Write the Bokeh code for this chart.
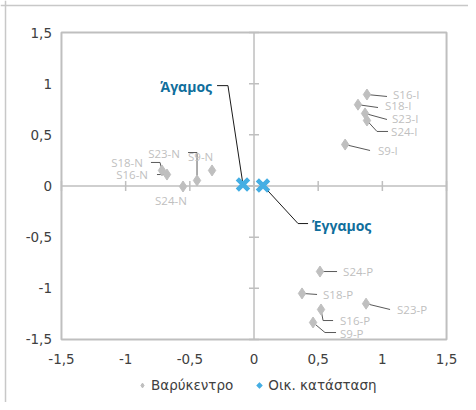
import math
from bokeh.plotting import figure
from bokeh.models import (ColumnDataSource, Range1d, Legend, LegendItem, Span)
from bokeh.embed import file_html
from bokeh.resources import INLINE
from bokeh.core.properties import value

# ---- data ----
point_names = ["S16-I", "S18-I", "S23-I", "S24-I", "S9-I",
               "S24-P", "S18-P", "S23-P", "S16-P", "S9-P",
               "S18-N", "S16-N", "S23-N", "S9-N", "S24-N"]
point_x = [0.88, 0.81, 0.865, 0.88, 0.71,
           0.514, 0.374, 0.873, 0.522, 0.46,
           -0.717, -0.678, -0.444, -0.327, -0.553]
point_y = [0.894, 0.795, 0.709, 0.64, 0.405,
           -0.836, -1.05, -1.15, -1.207, -1.334,
           0.152, 0.112, 0.054, 0.152, -0.005]

status_names = ["Άγαμος", "Έγγαμος"]
status_x = [-0.086, 0.07]
status_y = [0.015, 0.005]

tick_values = [-1.5, -1, -0.5, 0, 0.5, 1, 1.5]
tick_labels = ["-1,5", "-1", "-0,5", "0", "0,5", "1", "1,5"]

legend_labels = ["Βαρύκεντρο", "Οικ. κατάσταση"]

# ---- label layout (annotation placement, data units) ----
label_pos = {
    "S16-I": (1.083, 0.894, "left"), "S18-I": (1.021, 0.787, "left"),
    "S23-I": (1.075, 0.66, "left"), "S24-I": (1.068, 0.533, "left"),
    "S9-I": (0.966, 0.347, "left"),
    "S24-P": (0.694, -0.836, "left"), "S18-P": (0.538, -1.06, "left"),
    "S23-P": (1.114, -1.207, "left"), "S16-P": (0.67, -1.315, "left"),
    "S9-P": (0.67, -1.442, "left"),
    "S18-N": (-0.865, 0.23, "right"), "S16-N": (-0.826, 0.112, "right"),
    "S23-N": (-0.577, 0.318, "right"), "S9-N": (-0.514, 0.288, "left"),
    "S24-N": (-0.771, -0.142, "left"),
}
leader_path = {
    "S16-I": [(1.036, 0.875)], "S18-I": [(0.966, 0.767)],
    "S23-I": [(1.036, 0.65)], "S24-I": [(1.044, 0.533), (0.958, 0.533)],
    "S9-I": [(0.904, 0.347)],
    "S24-P": [(0.647, -0.836)], "S18-P": [(0.491, -1.06)],
    "S23-P": [(1.06, -1.207)], "S16-P": [(0.616, -1.315), (0.538, -1.315)],
    "S9-P": [(0.639, -1.432), (0.553, -1.432)],
    "S18-N": [(-0.803, 0.23), (-0.732, 0.23)], "S16-N": [(-0.756, 0.112)],
    "S23-N": [(-0.514, 0.327), (-0.444, 0.327)],
}
status_label_pos = {"Άγαμος": (-0.327, 0.973, "right"),
                    "Έγγαμος": (0.452, -0.386, "left")}
status_leader = {"Άγαμος": [(-0.288, 0.981), (-0.203, 0.981)],
                 "Έγγαμος": [(0.421, -0.367), (0.343, -0.367)]}

GRAY = "#BFBFBF"
BLUE = "#45AEE3"
DARKBLUE = "#0F6E9C"
AXIS = "#BFBFBF"
TXT = "#404040"

# whole figure is the drawing area; plot box is drawn at [-1.5, 1.5]
X0, X1 = -1.975, 1.671
Y0, Y1 = -2.116, 1.813
p = figure(width=468, height=402,
           x_range=Range1d(X0, X1), y_range=Range1d(Y0, Y1),
           x_axis_location=None, y_axis_location=None,
           output_backend="svg", toolbar_location=None,
           min_border=0)
p.grid.visible = False
p.outline_line_color = None
p.background_fill_color = "white"
p.border_fill_color = "white"

# chart border (left / top)
p.add_layout(Span(location=-1.936, dimension="height", line_color="#C8C8C8", line_width=1.5))
p.add_layout(Span(location=1.764, dimension="width", line_color="#C8C8C8", line_width=1.5))

lo, hi = tick_values[0], tick_values[-1]
# plot-area box
p.quad(left=[lo], right=[hi], bottom=[lo], top=[hi], fill_color=None,
       line_color=AXIS, line_width=2)
# crossing axes through the origin
p.segment(x0=[lo, 0], y0=[0, lo], x1=[hi, 0], y1=[0, hi],
          line_color=AXIS, line_width=1.5)
p.scatter(x=tick_values, y=[0] * len(tick_values), marker="dash", size=10,
          angle=math.pi / 2, line_color=AXIS, line_width=1.5)
p.scatter(x=[0] * len(tick_values), y=tick_values, marker="dash", size=10,
          line_color=AXIS, line_width=1.5)

# tick labels
p.text(x=tick_values, y=[-1.69] * len(tick_values), text=tick_labels,
       text_align="center", text_baseline="middle",
       text_font=value("DejaVu Sans"), text_font_size="13.5px", text_color=TXT)
p.text(x=[-1.574] * len(tick_values), y=tick_values, text=tick_labels,
       text_align="right", text_baseline="middle",
       text_font=value("DejaVu Sans"), text_font_size="13.5px", text_color=TXT)

# leader lines
lx, ly = [], []
for n, x, y in zip(point_names, point_x, point_y):
    if n in leader_path:
        pts = leader_path[n] + [(x, y)]
        lx.append([q[0] for q in pts])
        ly.append([q[1] for q in pts])
p.multi_line(lx, ly, line_color="#595959", line_width=1)

slx, sly = [], []
for n, x, y in zip(status_names, status_x, status_y):
    pts = status_leader[n] + [(x, y)]
    slx.append([q[0] for q in pts])
    sly.append([q[1] for q in pts])
p.multi_line(slx, sly, line_color="#1A1A1A", line_width=1)

# points
src = ColumnDataSource(dict(x=point_x, y=point_y, name=point_names))
r1 = p.scatter("x", "y", source=src, marker="diamond", size=11,
               fill_color=GRAY, line_color=GRAY)
ssrc = ColumnDataSource(dict(x=status_x, y=status_y, name=status_names))
r2 = p.scatter("x", "y", source=ssrc, marker="x", size=16,
               line_color=BLUE, line_width=4.5)

# point labels
lsrc = ColumnDataSource(dict(
    x=[label_pos[n][0] for n in point_names],
    y=[label_pos[n][1] for n in point_names],
    align=[label_pos[n][2] for n in point_names],
    text=point_names))
p.text("x", "y", text="text", source=lsrc, text_align="align",
       text_baseline="middle", text_font=value("Open Sans"),
       text_font_size="11.5px", text_color=GRAY)

stsrc = ColumnDataSource(dict(
    x=[status_label_pos[n][0] for n in status_names],
    y=[status_label_pos[n][1] for n in status_names],
    align=[status_label_pos[n][2] for n in status_names],
    text=status_names))
p.text("x", "y", text="text", source=stsrc, text_align="align",
       text_baseline="middle", text_font=value("Open Sans"),
       text_font_size="14px", text_font_style="bold", text_color=DARKBLUE)

legend = Legend(items=[LegendItem(label=legend_labels[0], renderers=[r1]),
                       LegendItem(label=legend_labels[1], renderers=[r2])],
                orientation="horizontal", location=(136, 9),
                label_text_font="DejaVu Sans", label_text_font_size="13.5px",
                label_text_color=TXT, border_line_color=None,
                background_fill_alpha=0, padding=0, margin=0, spacing=20,
                glyph_width=12, glyph_height=16, label_standoff=3,
                label_height=16)
p.add_layout(legend)

open("out.html", "w").write(file_html(p, INLINE))
